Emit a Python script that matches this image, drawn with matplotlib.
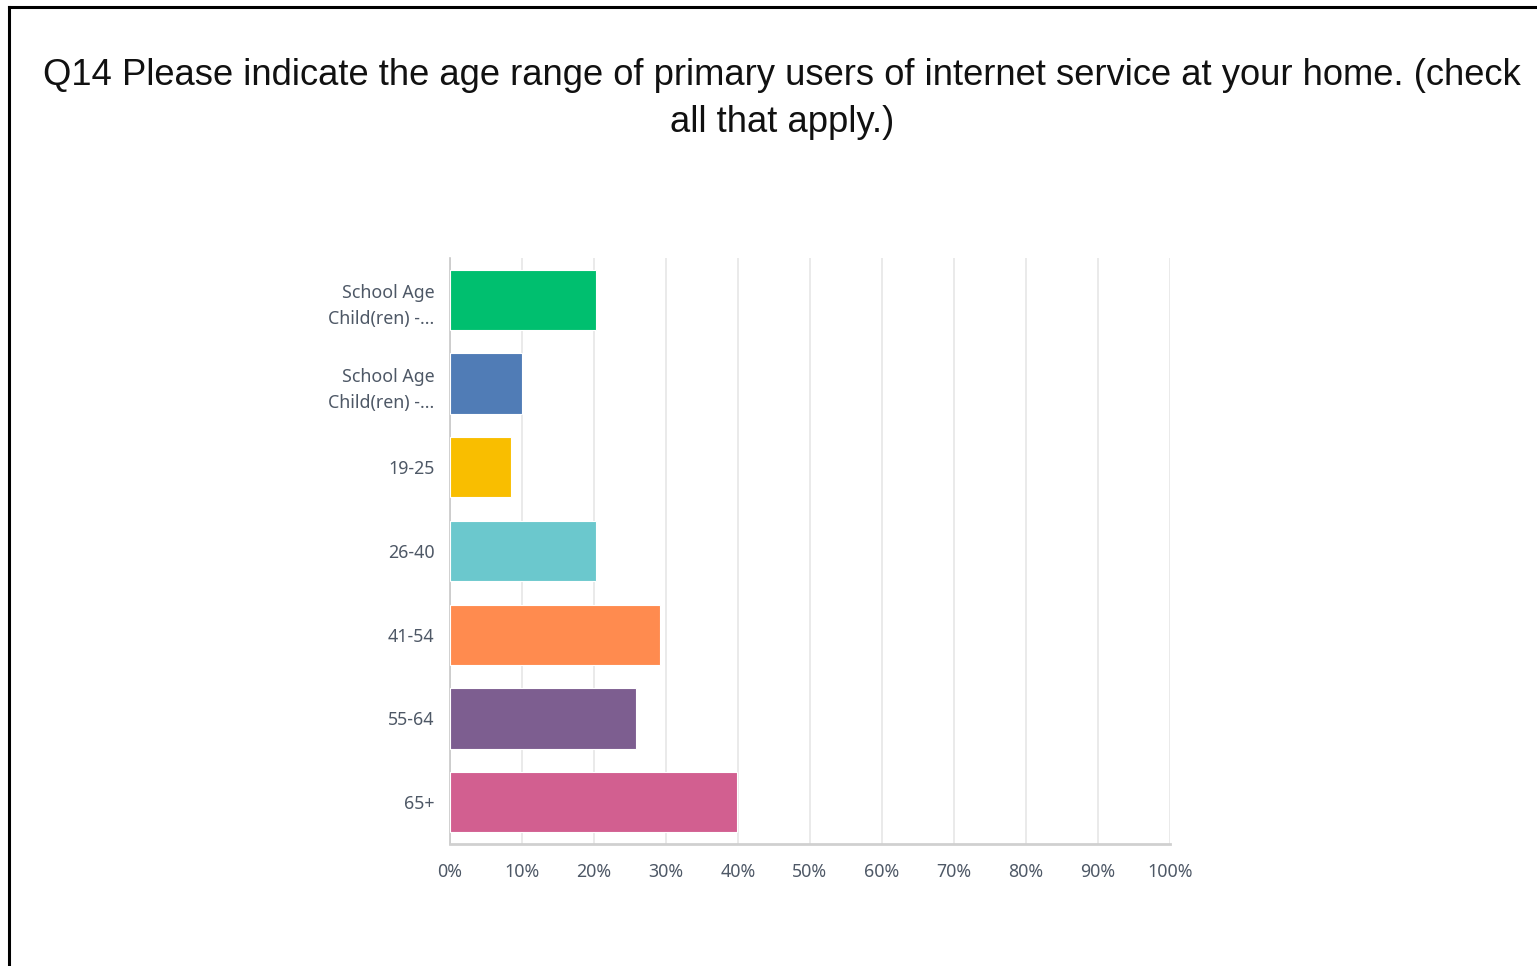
import matplotlib
matplotlib.use("Agg")
import matplotlib.pyplot as plt
from matplotlib.lines import Line2D

# Survey responses, percent of respondents
categories = [
    "School Age\nChild(ren) -...",
    "School Age\nChild(ren) -...",
    "19-25",
    "26-40",
    "41-54",
    "55-64",
    "65+",
]
values = [20.3, 10.0, 8.5, 20.3, 29.1, 25.8, 39.9]
colors = ["#00BF6F", "#507CB6", "#F9BE00", "#6BC8CD", "#FF8B4F", "#7D5E90", "#D25F90"]
xticks = list(range(0, 101, 10))
xtick_labels = [f"{t}%" for t in xticks]
title = ("Q14 Please indicate the age range of primary users of internet service at your home. (check\n"
         "all that apply.)")

W, H = 1537, 966
fig = plt.figure(figsize=(W / 100, H / 100), dpi=100)
fig.patch.set_facecolor("white")

ax = fig.add_axes([450 / W, 1 - 844 / H, 720 / W, (844 - 258) / H])
y = list(range(len(categories)))
ax.barh(y, values, height=0.72, color=colors, edgecolor="white", linewidth=0.8, zorder=3)
ax.set_ylim(len(categories) - 0.5, -0.5)
ax.set_xlim(0, 100)

ax.set_xticks(xticks)
ax.set_xticklabels(xtick_labels)
ax.set_yticks(y)
ax.set_yticklabels(categories, linespacing=1.6)

label_color = "#4E5866"
ax.tick_params(axis="x", length=0, pad=14, labelsize=12.8, labelcolor=label_color)
ax.tick_params(axis="y", length=0, pad=11, labelsize=12.8, labelcolor=label_color)
for lab in ax.get_xticklabels() + ax.get_yticklabels():
    lab.set_fontfamily("Noto Sans")

ax.grid(axis="x", color="#E6E6E6", linewidth=1.2, zorder=0)
ax.set_axisbelow(True)
for side in ("top", "right"):
    ax.spines[side].set_visible(False)
ax.spines["left"].set_color("#C8C8C8")
ax.spines["left"].set_linewidth(1.2)
ax.spines["bottom"].set_color("#D0D0D0")
ax.spines["bottom"].set_linewidth(2)

fig.text(782 / W, 1 - 58 / H, title, ha="center", va="top", fontsize=26.2,
         family="Liberation Sans", color="#111111", linespacing=1.45)

# Frame lines along the top and left edges
fig.add_artist(Line2D([9 / W, 1], [1 - 7 / H, 1 - 7 / H], transform=fig.transFigure,
                      color="black", linewidth=2.2))
fig.add_artist(Line2D([9 / W, 9 / W], [0, 1 - 7 / H], transform=fig.transFigure,
                      color="black", linewidth=2.2))

fig.savefig("out.png", dpi=100, facecolor="white")
